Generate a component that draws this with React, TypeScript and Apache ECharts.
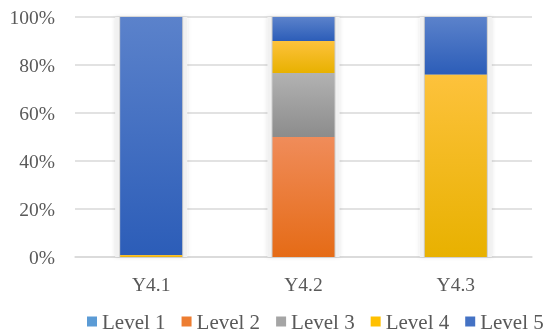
import React, { useEffect, useRef } from "react";
import * as echarts from "echarts";

const categories = ["Y4.1", "Y4.2", "Y4.3"];
const levelNames = ["Level 1", "Level 2", "Level 3", "Level 4", "Level 5"];
const level1 = [0, 0, 0];
const level2 = [0, 50, 0];
const level3 = [0, 26.7, 0];
const level4 = [0.8, 13.3, 76];
const level5 = [99.2, 10, 24];
const yTicks = [0, 20, 40, 60, 80, 100];

const levelData = [level1, level2, level3, level4, level5];
// [legend colour, gradient top, gradient bottom]
const palette: [string, string, string][] = [
  ["#5B9BD5", "#7DB0DE", "#4A8AC8"],
  ["#ED7D31", "#F08C5A", "#E56B16"],
  ["#A5A5A5", "#B2B2B2", "#8C8C8C"],
  ["#FFC000", "#FDC23C", "#E8B100"],
  ["#4472C4", "#5B82CB", "#2C5DB8"],
];

const FONT = "Liberation Serif";
const TEXT = "#595959";
const BAR_W = 62;

export default function App() {
  const ref = useRef<HTMLDivElement>(null);

  useEffect(() => {
    if (!ref.current) return;
    const chart = echarts.init(ref.current, undefined, { renderer: "svg" });

    const totals = categories.map((_, i) =>
      levelData.reduce((s, arr) => s + arr[i], 0)
    );

    const levelSeries = levelNames.map((name, k) => ({
      name,
      type: "bar",
      stack: "total",
      xAxisIndex: 0,
      barWidth: BAR_W,
      z: 4,
      data: levelData[k],
      itemStyle: {
        color: new echarts.graphic.LinearGradient(0, 0, 0, 1, [
          { offset: 0, color: palette[k][1] },
          { offset: 1, color: palette[k][2] },
        ]),
      },
    }));

    // hidden twin category axis so the decoration bars sit centred in each slot
    const hiddenAxis = {
      type: "category",
      data: categories,
      show: false,
    };

    chart.setOption({
      animation: false,
      color: palette.map((p) => p[0]),
      textStyle: { fontFamily: FONT },
      grid: { left: 75, right: 15, top: 17, bottom: 77 },
      legend: {
        data: levelNames.map((n, k) => ({
          name: n,
          itemStyle: { color: palette[k][0] },
        })),
        left: 87,
        top: 311,
        padding: 0,
        itemWidth: 10,
        itemHeight: 10,
        itemGap: 16,
        icon: "rect",
        textStyle: {
          fontFamily: FONT,
          fontSize: 21,
          color: TEXT,
        },
      },
      xAxis: [
        {
          type: "category",
          data: categories,
          axisLine: { lineStyle: { color: "#D9D9D9", width: 1.5 } },
          axisTick: { show: false },
          axisLabel: {
            fontFamily: FONT,
            fontSize: 19.5,
            color: TEXT,
            margin: 17,
          },
        },
        hiddenAxis,
        { ...hiddenAxis },
      ],
      yAxis: {
        type: "value",
        min: yTicks[0],
        max: yTicks[yTicks.length - 1],
        interval: yTicks[1] - yTicks[0],
        axisLine: { show: false },
        axisTick: { show: false },
        splitLine: { lineStyle: { color: "#D9D9D9", width: 1.5 } },
        axisLabel: {
          fontFamily: FONT,
          fontSize: 19.5,
          color: TEXT,
          margin: 20,
          formatter: "{value}%",
        },
      },
      series: [
        // soft halo around each column
        {
          name: "halo",
          type: "bar",
          xAxisIndex: 1,
          barWidth: BAR_W + 10,
          z: 2,
          silent: true,
          data: totals,
          itemStyle: {
            color: "#F1F1F1",
            shadowBlur: 4,
            shadowColor: "rgba(0,0,0,0.12)",
          },
        },
        // thin dark rim right at the column edge
        {
          name: "rim",
          type: "bar",
          xAxisIndex: 2,
          barWidth: BAR_W + 2,
          z: 3,
          silent: true,
          data: totals,
          itemStyle: { color: "#CDCDCD" },
        },
        ...levelSeries,
      ],
    });

    return () => chart.dispose();
  }, []);

  return (
    <div
      ref={ref}
      style={{ position: "fixed", left: 0, top: 0, width: 547, height: 334 }}
    />
  );
}
